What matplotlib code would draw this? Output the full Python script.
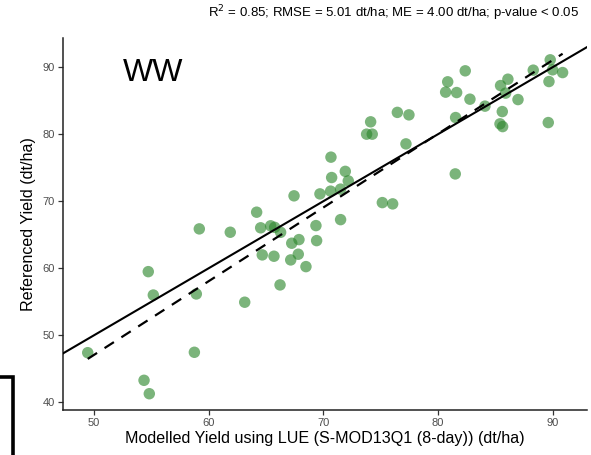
import numpy as np
import matplotlib
matplotlib.use("Agg")
import matplotlib.pyplot as plt
from matplotlib.lines import Line2D

plt.rcParams['font.family'] = ['Liberation Sans', 'DejaVu Sans']

modelled = [49.45, 54.36, 54.82, 54.73, 55.17, 58.75, 58.92, 59.18, 61.88, 63.14,
            64.18, 64.53, 65.40, 65.75, 66.27, 64.67, 65.69, 66.22, 67.44, 67.24,
            67.87, 67.81, 67.15, 68.48, 69.35, 69.41, 69.70, 70.63, 71.50, 71.50,
            70.66, 70.72, 71.91, 72.17, 73.77, 74.26, 74.12, 75.14, 76.04, 76.45,
            77.46, 77.20, 80.66, 80.84, 81.62, 82.37, 81.53, 81.50, 82.78, 84.09,
            85.45, 86.09, 85.89, 86.97, 85.60, 85.40, 85.63, 88.30, 89.78, 89.99,
            90.86, 89.67, 89.61]
referenced = [47.40, 43.28, 41.28, 59.49, 56.00, 47.46, 56.16, 65.87, 65.37, 54.93,
              68.36, 66.03, 66.33, 66.10, 65.36, 61.99, 61.79, 57.51, 70.80, 63.73,
              64.27, 62.09, 61.24, 60.24, 66.36, 64.12, 71.09, 71.50, 71.80, 67.25,
              76.57, 73.53, 74.45, 73.03, 80.00, 80.00, 81.84, 69.79, 69.60, 83.25,
              82.88, 78.55, 86.27, 87.81, 86.21, 89.45, 82.48, 74.07, 85.22, 84.18,
              87.25, 88.20, 86.12, 85.16, 83.37, 81.54, 81.13, 89.55, 91.09, 89.60,
              89.19, 87.85, 81.73]

x_ticks = [50, 60, 70, 80, 90]
y_ticks = [40, 50, 60, 70, 80, 90]
title_text = r"R$^2$ = 0.85; RMSE = 5.01 dt/ha; ME = 4.00 dt/ha; p-value < 0.05"
panel_label = "WW"
x_label = "Modelled Yield using LUE (S-MOD13Q1 (8-day)) (dt/ha)"
y_label = "Referenced Yield (dt/ha)"

x = np.array(modelled)
y = np.array(referenced)

fig = plt.figure(figsize=(5.91, 4.55), dpi=100)
ax = fig.add_axes([0.1071, 0.0989, 0.9927 - 0.1071, 0.9158 - 0.0989])

xlim = (47.32, 92.96)
ylim = (38.85, 94.3)

ax.scatter(x, y, s=68, color='#2b862b', alpha=0.62, edgecolors='none', zorder=3)

# 1:1 line
xx = np.array(xlim)
ax.plot(xx, xx, color='black', lw=1.5, zorder=4)

# regression line
slope, intercept = np.polyfit(x, y, 1)
xr = np.array([x.min(), x.max()])
ax.plot(xr, slope * xr + intercept, color='black', lw=1.6, ls=(0, (5, 4)), zorder=4)

ax.set_xlim(*xlim)
ax.set_ylim(*ylim)
ax.set_xticks(x_ticks)
ax.set_yticks(y_ticks)
for s in ['top', 'right']:
    ax.spines[s].set_visible(False)
for s in ['left', 'bottom']:
    ax.spines[s].set_linewidth(1.1)
    ax.spines[s].set_color('#222222')
ax.tick_params(axis='both', length=3.5, width=0.9, color='#333333',
               labelsize=8, labelcolor='#4d4d4d', pad=2.5)

ax.set_xlabel(x_label, fontsize=11.6, labelpad=2)
ax.set_ylabel(y_label, fontsize=11.6, labelpad=5)

ax.text(52.5, 89.07, panel_label, fontsize=23, ha='left', va='center')

fig.text(394 / 591, 1 - 13 / 455, title_text, fontsize=9.5, ha='center', va='center')

# cropped bracket from neighbouring panel
fig.add_artist(Line2D([0, 12.5 / 591, 12.5 / 591], [1 - 376.5 / 455, 1 - 376.5 / 455, 0],
                      transform=fig.transFigure, color='black', lw=2.6,
                      solid_joinstyle='miter'))

fig.savefig('out.png', dpi=100)
